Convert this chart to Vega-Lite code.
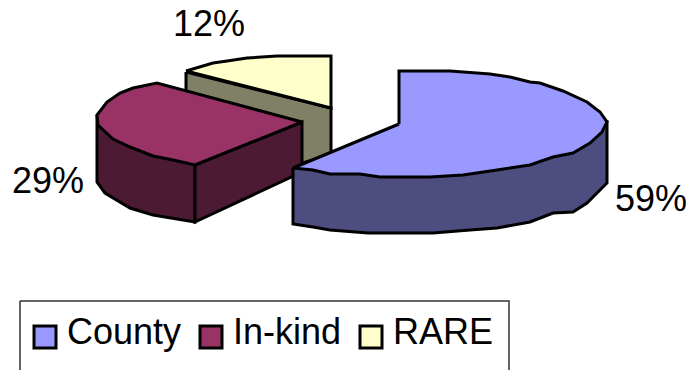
{"$schema":"https://vega.github.io/schema/vega-lite/v6.json","width":689,"height":370,"padding":0,"autosize":{"type":"none"},"background":"white","config":{"view":{"stroke":null},"font":"Liberation Sans"},"layer":[{"data":{"values":[
{"face":"box","i":1,"x":20,"y":301},{"face":"box","i":2,"x":509,"y":301},{"face":"box","i":3,"x":509,"y":375},{"face":"box","i":4,"x":20,"y":375},{"face":"box","i":5,"x":20,"y":301}
]},"mark":{"type":"line","stroke":"#333333","strokeWidth":1.5,"clip":true},"encoding":{"x":{"field":"x","type":"quantitative","scale":{"domain":[0,689],"nice":false},"axis":null},"y":{"field":"y","type":"quantitative","scale":{"domain":[370,0],"nice":false},"axis":null},"detail":{"field":"face"},"order":{"field":"i","type":"quantitative"}}},
{"data":{"values":[
{"face":"r1","part":"RARE side","i":1,"x":186,"y":72},{"face":"r1","part":"RARE side","i":2,"x":331,"y":108},{"face":"r1","part":"RARE side","i":3,"x":331,"y":154},{"face":"r1","part":"RARE side","i":4,"x":303,"y":163},{"face":"r1","part":"RARE side","i":5,"x":186,"y":120},{"face":"r1","part":"RARE side","i":6,"x":186,"y":72},
{"face":"r2","part":"RARE","i":1,"x":186,"y":71},{"face":"r2","part":"RARE","i":2,"x":213,"y":63},{"face":"r2","part":"RARE","i":3,"x":227,"y":61},{"face":"r2","part":"RARE","i":4,"x":247,"y":58},{"face":"r2","part":"RARE","i":5,"x":277,"y":56},{"face":"r2","part":"RARE","i":6,"x":331,"y":56},{"face":"r2","part":"RARE","i":7,"x":331,"y":108},{"face":"r2","part":"RARE","i":8,"x":186,"y":71},
{"face":"m1","part":"In-kind side","i":1,"x":97,"y":115},{"face":"m1","part":"In-kind side","i":2,"x":97,"y":182},{"face":"m1","part":"In-kind side","i":3,"x":105,"y":193},{"face":"m1","part":"In-kind side","i":4,"x":130,"y":208},{"face":"m1","part":"In-kind side","i":5,"x":153,"y":215},{"face":"m1","part":"In-kind side","i":6,"x":195,"y":222},{"face":"m1","part":"In-kind side","i":7,"x":195,"y":165},{"face":"m1","part":"In-kind side","i":8,"x":97,"y":115},
{"face":"m2","part":"In-kind side","i":1,"x":195,"y":165},{"face":"m2","part":"In-kind side","i":2,"x":302,"y":122},{"face":"m2","part":"In-kind side","i":3,"x":302,"y":172},{"face":"m2","part":"In-kind side","i":4,"x":195,"y":222},{"face":"m2","part":"In-kind side","i":5,"x":195,"y":165},
{"face":"m3","part":"In-kind","i":1,"x":302,"y":122},{"face":"m3","part":"In-kind","i":2,"x":195,"y":165},{"face":"m3","part":"In-kind","i":3,"x":173,"y":160},{"face":"m3","part":"In-kind","i":4,"x":153,"y":156},{"face":"m3","part":"In-kind","i":5,"x":130,"y":147},{"face":"m3","part":"In-kind","i":6,"x":113,"y":139},{"face":"m3","part":"In-kind","i":7,"x":98,"y":125},{"face":"m3","part":"In-kind","i":8,"x":97,"y":115},{"face":"m3","part":"In-kind","i":9,"x":107,"y":102},{"face":"m3","part":"In-kind","i":10,"x":120,"y":93},{"face":"m3","part":"In-kind","i":11,"x":133,"y":88},{"face":"m3","part":"In-kind","i":12,"x":157,"y":83},{"face":"m3","part":"In-kind","i":13,"x":302,"y":122},
{"face":"b1","part":"County side","i":1,"x":293,"y":168},{"face":"b1","part":"County side","i":2,"x":293,"y":224},{"face":"b1","part":"County side","i":3,"x":313,"y":227},{"face":"b1","part":"County side","i":4,"x":330,"y":230},{"face":"b1","part":"County side","i":5,"x":368,"y":233},{"face":"b1","part":"County side","i":6,"x":433,"y":233},{"face":"b1","part":"County side","i":7,"x":470,"y":230},{"face":"b1","part":"County side","i":8,"x":497,"y":228},{"face":"b1","part":"County side","i":9,"x":530,"y":222},{"face":"b1","part":"County side","i":10,"x":553,"y":213},{"face":"b1","part":"County side","i":11,"x":573,"y":212},{"face":"b1","part":"County side","i":12,"x":587,"y":203},{"face":"b1","part":"County side","i":13,"x":607,"y":183},{"face":"b1","part":"County side","i":14,"x":607,"y":122},{"face":"b1","part":"County side","i":15,"x":293,"y":168},
{"face":"b2","part":"County","i":1,"x":399,"y":124},{"face":"b2","part":"County","i":2,"x":399,"y":71},{"face":"b2","part":"County","i":3,"x":450,"y":71},{"face":"b2","part":"County","i":4,"x":490,"y":74},{"face":"b2","part":"County","i":5,"x":510,"y":77},{"face":"b2","part":"County","i":6,"x":530,"y":82},{"face":"b2","part":"County","i":7,"x":540,"y":83},{"face":"b2","part":"County","i":8,"x":563,"y":91},{"face":"b2","part":"County","i":9,"x":587,"y":102},{"face":"b2","part":"County","i":10,"x":600,"y":112},{"face":"b2","part":"County","i":11,"x":607,"y":122},{"face":"b2","part":"County","i":12,"x":602,"y":132},{"face":"b2","part":"County","i":13,"x":590,"y":143},{"face":"b2","part":"County","i":14,"x":573,"y":153},{"face":"b2","part":"County","i":15,"x":553,"y":157},{"face":"b2","part":"County","i":16,"x":530,"y":165},{"face":"b2","part":"County","i":17,"x":497,"y":170},{"face":"b2","part":"County","i":18,"x":463,"y":175},{"face":"b2","part":"County","i":19,"x":430,"y":177},{"face":"b2","part":"County","i":20,"x":380,"y":177},{"face":"b2","part":"County","i":21,"x":360,"y":174},{"face":"b2","part":"County","i":22,"x":330,"y":174},{"face":"b2","part":"County","i":23,"x":313,"y":170},{"face":"b2","part":"County","i":24,"x":293,"y":168},{"face":"b2","part":"County","i":25,"x":399,"y":124}
]},"mark":{"type":"line","stroke":"black","strokeWidth":3,"strokeJoin":"miter","clip":false},"encoding":{"x":{"field":"x","type":"quantitative"},"y":{"field":"y","type":"quantitative"},"detail":{"field":"face"},"order":{"field":"i","type":"quantitative"},"fill":{"field":"part","type":"nominal","scale":{"domain":["County","In-kind","RARE","County side","In-kind side","RARE side"],"range":["#9999ff","#993366","#ffffcc","#4d4d80","#4d1a33","#808066"]},"legend":{"values":["County","In-kind","RARE"],"title":null,"orient":"none","legendX":27,"legendY":319,"direction":"horizontal","columns":3,"symbolType":"square","symbolSize":484,"symbolStrokeColor":"black","symbolStrokeWidth":3,"labelFontSize":36,"labelFont":"Liberation Sans","labelColor":"black","columnPadding":11,"labelOffset":4,"padding":0,"rowPadding":0,"encode":{"labels":{"update":{"dy":{"value":-4}}}}}}}},
{"data":{"values":[{"label":"12%","x":209,"y":25},{"label":"29%","x":48,"y":182},{"label":"59%","x":651,"y":200}]},"mark":{"type":"text","fontSize":36,"font":"Liberation Sans","color":"black","align":"center","baseline":"middle"},"encoding":{"x":{"field":"x","type":"quantitative"},"y":{"field":"y","type":"quantitative"},"text":{"field":"label"}}}
]}
